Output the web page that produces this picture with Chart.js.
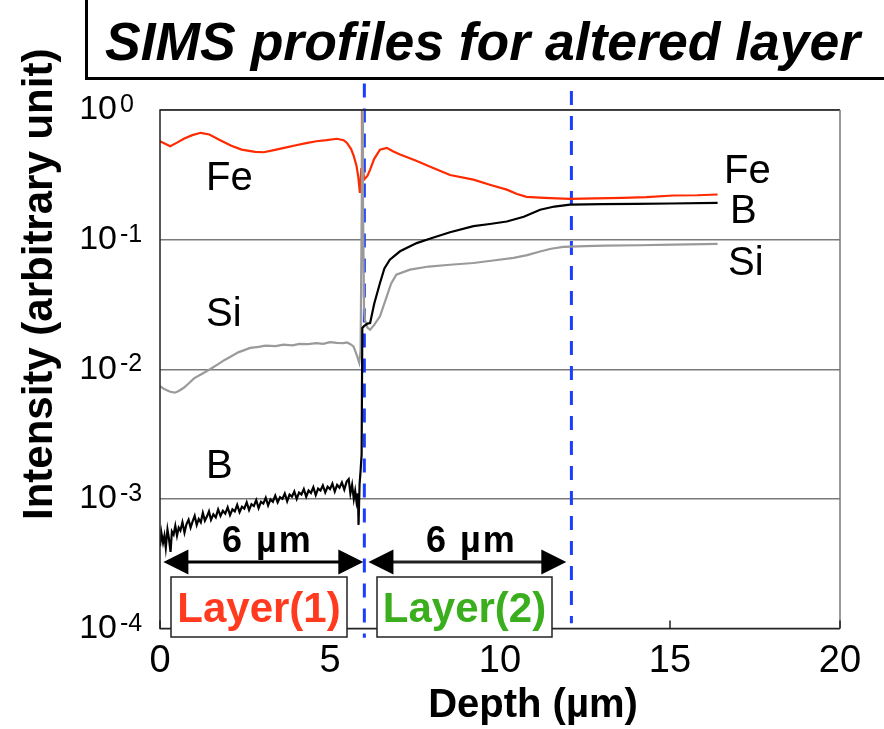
<!DOCTYPE html>
<html>
<head>
<meta charset="utf-8">
<script src="https://cdn.jsdelivr.net/npm/chart.js@4.4.0/dist/chart.umd.min.js"></script>
<style>
  html, body { margin: 0; padding: 0; background: #fff; }
  #wrap { position: relative; width: 884px; height: 729px; overflow: hidden; }
  #titleBox { position: absolute; left: 85px; top: -4px; width: 820px; height: 81px;
    border-left: 3px solid #000; border-bottom: 3px solid #000; }
  #titleText { position: absolute; left: 17px; top: 15px; line-height: 1; white-space: nowrap;
    font: italic bold 53.5px "Liberation Sans", Arial, sans-serif; color: #000; }
</style>
</head>
<body>
<div id="wrap">
  <canvas id="chart" width="884" height="729"></canvas>
  <div id="titleBox"><span id="titleText">SIMS profiles for altered layer</span></div>
</div>
<script>
const FONT = '"Liberation Sans", Arial, sans-serif';

// Fe profile
const feDepth = [0, 0.15, 0.3, 0.5, 0.7, 0.95, 1.2, 1.45, 1.8, 2.1, 2.4, 2.8, 3.05, 3.35, 3.65, 4.0, 4.3, 4.6, 4.9, 5.2, 5.4, 5.5, 5.62, 5.7, 5.78, 5.83, 5.88, 5.92, 5.94, 5.96, 6.0, 6.1, 6.18, 6.3, 6.47, 6.67, 6.85, 7.06, 7.5, 8.0, 8.53, 9.22, 9.7, 10.2, 10.5, 10.78, 11.3, 12.06, 12.8, 13.6, 14.3, 15.1, 15.8, 16.4];
const feValue = [0.574, 0.55, 0.525, 0.56, 0.6, 0.64, 0.667, 0.647, 0.58, 0.53, 0.495, 0.475, 0.472, 0.49, 0.51, 0.535, 0.555, 0.574, 0.585, 0.6, 0.585, 0.557, 0.5, 0.44, 0.37, 0.308, 0.229, 0.35, 1.0, 0.4, 0.29, 0.31, 0.347, 0.42, 0.495, 0.51, 0.48, 0.453, 0.41, 0.36, 0.315, 0.29, 0.265, 0.243, 0.225, 0.214, 0.21, 0.206, 0.208, 0.21, 0.213, 0.219, 0.22, 0.223];

// Si profile
const siDepth = [0, 0.1, 0.2, 0.3, 0.44, 0.55, 0.7, 0.85, 1.0, 1.2, 1.47, 1.7, 1.9, 2.1, 2.3, 2.5, 2.65, 2.9, 3.1, 3.4, 3.63, 3.9, 4.1, 4.35, 4.6, 4.8, 5.0, 5.2, 5.39, 5.5, 5.6, 5.69, 5.78, 5.86, 5.9, 5.94, 5.95, 5.97, 6.0, 6.03, 6.1, 6.18, 6.3, 6.47, 6.67, 6.8, 6.95, 7.35, 7.9, 8.53, 9.22, 9.8, 10.4, 10.8, 11.18, 11.5, 11.86, 12.5, 13.1, 14.1, 15.1, 16.4];
const siValue = [0.0074, 0.0071, 0.0069, 0.0067, 0.0066, 0.0068, 0.0072, 0.0078, 0.0085, 0.0091, 0.01, 0.0109, 0.0118, 0.0126, 0.0135, 0.0141, 0.0146, 0.0149, 0.0152, 0.0151, 0.0155, 0.0153, 0.0157, 0.0156, 0.0159, 0.0157, 0.0162, 0.016, 0.0159, 0.0161, 0.0156, 0.015, 0.013, 0.0112, 0.014, 0.3, 1.0, 0.2, 0.03, 0.024, 0.021, 0.0202, 0.022, 0.0256, 0.0365, 0.046, 0.0537, 0.0587, 0.062, 0.064, 0.066, 0.069, 0.0724, 0.076, 0.081, 0.085, 0.088, 0.089, 0.09, 0.0905, 0.0914, 0.0926];

// B profile (noisy below the interface)
const bDepth = [0, 0.04, 0.09, 0.13, 0.17, 0.22, 0.26, 0.31, 0.35, 0.4, 0.45, 0.5, 0.55, 0.6, 0.66, 0.72, 0.78, 0.84, 0.9, 0.96, 1.02, 1.08, 1.14, 1.2, 1.26, 1.32, 1.38, 1.44, 1.5, 1.57, 1.64, 1.71, 1.78, 1.85, 1.92, 1.99, 2.06, 2.13, 2.2, 2.27, 2.34, 2.41, 2.48, 2.55, 2.62, 2.69, 2.76, 2.83, 2.9, 2.97, 3.04, 3.11, 3.18, 3.25, 3.32, 3.39, 3.46, 3.53, 3.6, 3.67, 3.74, 3.81, 3.88, 3.95, 4.02, 4.09, 4.16, 4.23, 4.3, 4.37, 4.44, 4.51, 4.58, 4.65, 4.72, 4.79, 4.86, 4.93, 5.0, 5.07, 5.14, 5.21, 5.28, 5.35, 5.42, 5.49, 5.55, 5.6, 5.65, 5.7, 5.74, 5.78, 5.82, 5.84, 5.87, 5.9, 5.93, 5.95, 6.0, 6.1, 6.18, 6.3, 6.47, 6.6, 6.76, 7.06, 7.55, 8.0, 8.53, 9.22, 9.7, 10.2, 10.7, 11.18, 11.6, 12.06, 13.0, 14.0, 15.0, 16.4];
const bValue = [0.00043, 0.00055, 0.00046, 0.00052, 0.00042, 0.00058, 0.0005, 0.00039, 0.00056, 0.00053, 0.00062, 0.00052, 0.0006, 0.00057, 0.00066, 0.00055, 0.00064, 0.00069, 0.0006, 0.00067, 0.00074, 0.00063, 0.0007, 0.00066, 0.00078, 0.00068, 0.00073, 0.0008, 0.00069, 0.00076, 0.00072, 0.00083, 0.00074, 0.00081, 0.00077, 0.00086, 0.00075, 0.00083, 0.0008, 0.0009, 0.00079, 0.00087, 0.00084, 0.00094, 0.00082, 0.00091, 0.00088, 0.00098, 0.00085, 0.00095, 0.00092, 0.00102, 0.00089, 0.00099, 0.00095, 0.00106, 0.00094, 0.00103, 0.001, 0.0011, 0.00096, 0.00108, 0.00104, 0.00114, 0.001, 0.00112, 0.00108, 0.00119, 0.00104, 0.00116, 0.00111, 0.00123, 0.00107, 0.0012, 0.00116, 0.00127, 0.00112, 0.00124, 0.00119, 0.00131, 0.00114, 0.00128, 0.00122, 0.00134, 0.00118, 0.00136, 0.00142, 0.0011, 0.00128, 0.001, 0.00115, 0.00095, 0.0011, 0.00063, 0.0013, 0.00165, 0.0022, 0.0208, 0.0215, 0.0225, 0.0227, 0.032, 0.0463, 0.06, 0.07, 0.0813, 0.094, 0.103, 0.114, 0.127, 0.132, 0.138, 0.15, 0.17, 0.18, 0.186, 0.188, 0.189, 0.19, 0.192];

// layer boundaries (dashed markers)
const boundaryDepth = [6.01, 12.1];
const boundaryTop = [1.6, 1.4];
const boundaryBottom = [0.000085, 0.00011];

const yTickValues = [1e-4, 1e-3, 1e-2, 1e-1, 1];
const yTickExponents = ['-4', '-3', '-2', '-1', '0'];

function toPoints(xs, ys) {
    return xs.map((d, i) => ({x: d, y: ys[i]}));
}

const lineStyle = {pointRadius: 0, borderWidth: 2.2, tension: 0, fill: false};

const datasets = [
    Object.assign({label: 'B', data: toPoints(bDepth, bValue), borderColor: '#000000'}, lineStyle),
    Object.assign({label: 'Si', data: toPoints(siDepth, siValue), borderColor: '#9a9a9a'}, lineStyle),
    Object.assign({label: 'Fe', data: toPoints(feDepth, feValue), borderColor: '#ff2a00'}, lineStyle)
];
boundaryDepth.forEach((d, i) => {
    datasets.push({
        label: 'boundary' + i,
        data: [{x: d, y: boundaryTop[i]}, {x: d, y: boundaryBottom[i]}],
        borderColor: '#1a3dff', borderWidth: 3, borderDash: [14, 11],
        pointRadius: 0, clip: false
    });
});

// text labels and layer annotations (pixel layout)
const seriesLabels = [
    {text: 'Fe', x: 206, y: 190}, {text: 'Si', x: 206, y: 326}, {text: 'B', x: 206, y: 478},
    {text: 'Fe', x: 724, y: 183}, {text: 'B', x: 730, y: 223}, {text: 'Si', x: 728, y: 275}
];
const layers = [
    {from: 0.1, to: 5.98, name: 'Layer(1)', color: '#ff3a1e', box: [171, 577, 176, 60]},
    {from: 6.13, to: 11.95, name: 'Layer(2)', color: '#3aae1c', box: [377, 577, 175, 60]}
];
const arrowY = 562;

function drawArrow(ctx, x1, x2, yy) {
    const hl = 25, hw = 12.5;
    ctx.lineWidth = 3;
    ctx.beginPath();
    ctx.moveTo(x1 + hl - 2, yy);
    ctx.lineTo(x2 - hl + 2, yy);
    ctx.stroke();
    ctx.beginPath();
    ctx.moveTo(x1, yy); ctx.lineTo(x1 + hl, yy - hw); ctx.lineTo(x1 + hl, yy + hw); ctx.closePath();
    ctx.fill();
    ctx.beginPath();
    ctx.moveTo(x2, yy); ctx.lineTo(x2 - hl, yy - hw); ctx.lineTo(x2 - hl, yy + hw); ctx.closePath();
    ctx.fill();
}

const decorations = {
    id: 'decorations',
    afterDatasetsDraw(chart) {
        const {ctx, chartArea: a, scales: {x, y}} = chart;
        ctx.save();

        // plot frame
        ctx.lineWidth = 1.5;
        ctx.strokeStyle = '#222';
        ctx.beginPath();
        ctx.moveTo(a.right, a.top); ctx.lineTo(a.left, a.top); ctx.lineTo(a.left, a.bottom); ctx.lineTo(a.right, a.bottom);
        ctx.stroke();
        ctx.strokeStyle = '#777';
        ctx.beginPath();
        ctx.moveTo(a.right, a.top); ctx.lineTo(a.right, a.bottom);
        ctx.stroke();

        // inner x ticks
        ctx.strokeStyle = '#222';
        x.ticks.forEach(t => {
            const px = x.getPixelForValue(t.value);
            ctx.beginPath(); ctx.moveTo(px, a.bottom); ctx.lineTo(px, a.bottom - 8); ctx.stroke();
        });

        // exponents of y tick labels
        ctx.fillStyle = '#000';
        ctx.font = '25px ' + FONT;
        ctx.textBaseline = 'alphabetic';
        ctx.textAlign = 'left';
        yTickValues.forEach((v, i) => {
            const py = y.getPixelForValue(v);
            ctx.fillText(yTickExponents[i], 120, py + 2);
        });

        // axis titles
        ctx.font = 'bold 40px ' + FONT;
        ctx.textAlign = 'center';
        ctx.fillText('Depth (µm)', 533, 717);
        ctx.save();
        ctx.translate(52, 520);
        ctx.rotate(-Math.PI / 2);
        ctx.textAlign = 'left';
        ctx.font = 'bold 42px ' + FONT;
        ctx.fillText('Intensity (arbitrary unit)', 0, 0);
        ctx.restore();

        // series names
        ctx.textAlign = 'left';
        ctx.font = '40px ' + FONT;
        seriesLabels.forEach(l => ctx.fillText(l.text, l.x, l.y));

        // arrows and layer boxes
        ctx.strokeStyle = '#000';
        layers.forEach(l => {
            const x1 = x.getPixelForValue(l.from), x2 = x.getPixelForValue(l.to);
            drawArrow(ctx, x1, x2, arrowY);
            ctx.font = 'bold 36px ' + FONT;
            ctx.textAlign = 'center';
            ctx.fillStyle = '#000';
            ctx.letterSpacing = '2px';
            ctx.fillText('6 µm', (x1 + x2) / 2 + 4, 552);
            ctx.letterSpacing = '0px';
            const [bx, by, bw, bh] = l.box;
            ctx.fillStyle = '#fff';
            ctx.fillRect(bx, by, bw, bh);
            ctx.lineWidth = 1.5;
            ctx.strokeStyle = '#222';
            ctx.strokeRect(bx, by, bw, bh);
            ctx.fillStyle = l.color;
            ctx.font = 'bold 42px ' + FONT;
            ctx.fillText(l.name, bx + bw / 2, by + 45);
            ctx.fillStyle = '#000';
            ctx.textAlign = 'left';
        });
        ctx.restore();
    }
};

new Chart(document.getElementById('chart'), {
    type: 'line',
    data: {datasets: datasets},
    plugins: [decorations],
    options: {
        responsive: false,
        animation: false,
        layout: {padding: {top: 110, right: 44, bottom: 0, left: 0}},
        plugins: {legend: {display: false}, tooltip: {enabled: false}},
        scales: {
            x: {
                type: 'linear', min: 0, max: 20,
                afterFit: s => { s.height = 100.5; },
                ticks: {stepSize: 5, color: '#000', padding: 10, font: {size: 38, family: FONT}},
                grid: {display: false, drawTicks: false},
                border: {display: false}
            },
            y: {
                type: 'logarithmic', min: 1e-4, max: 1,
                afterBuildTicks: s => { s.ticks = yTickValues.map(v => ({value: v})); },
                afterFit: s => { s.width = 160; },
                ticks: {callback: () => '10', color: '#000', padding: 43, labelOffset: 0,
                        font: {size: 34, family: FONT}},
                grid: {color: '#7a7a7a', lineWidth: 1.5, drawTicks: false},
                border: {display: false}
            }
        }
    }
});
</script>
</body>
</html>
